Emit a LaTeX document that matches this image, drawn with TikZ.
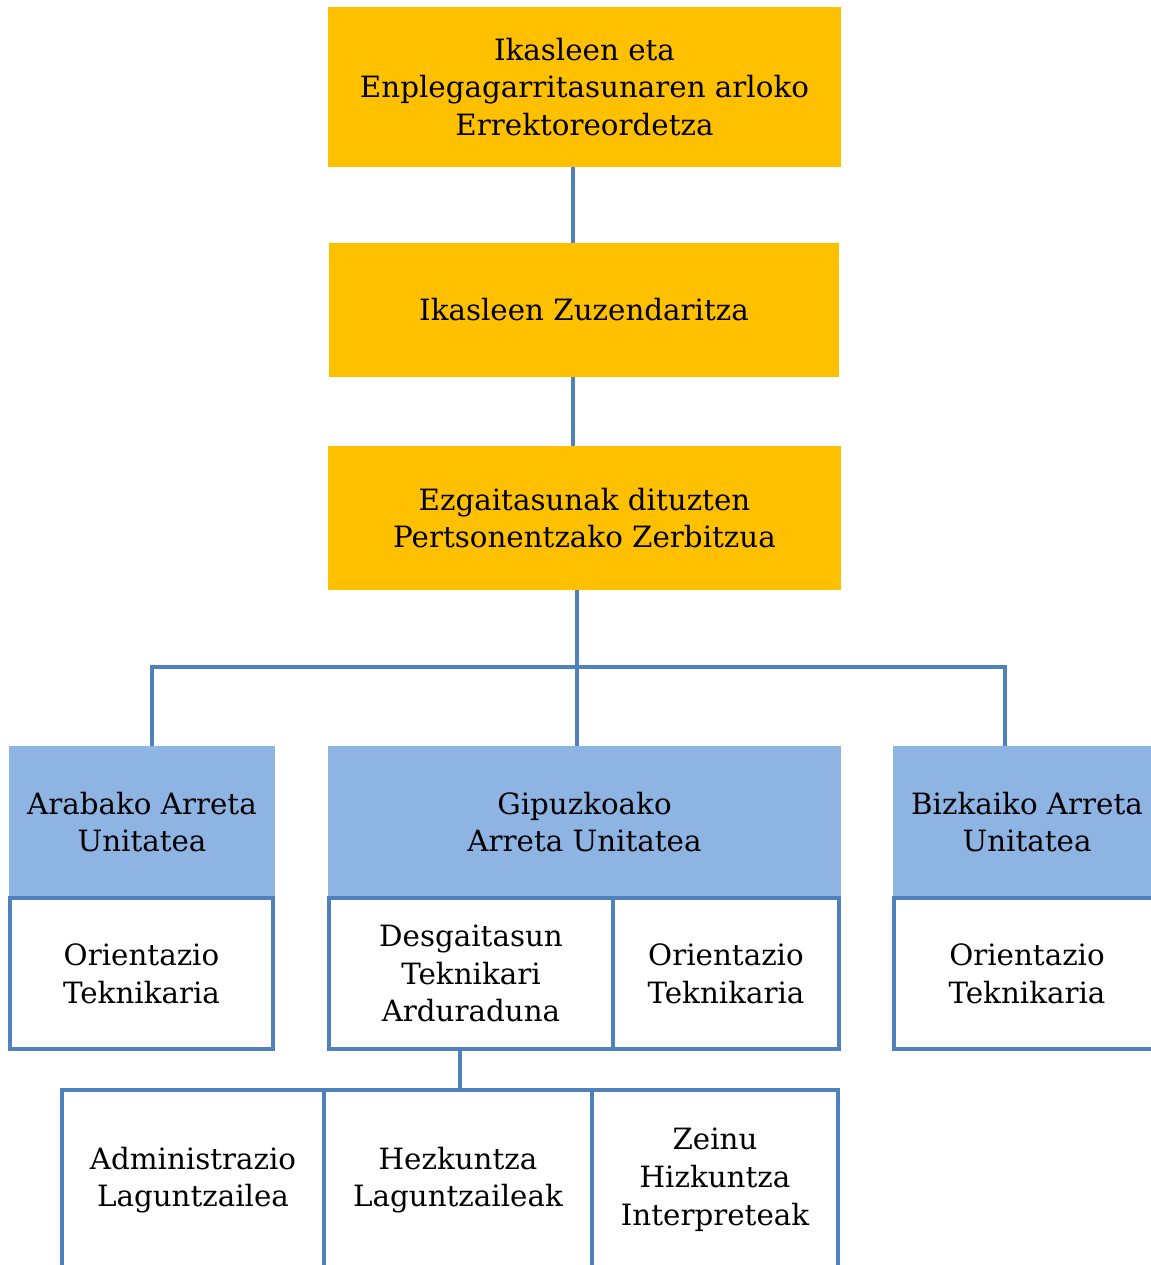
\documentclass[tikz,border=0pt]{standalone}
\usepackage{fontspec}
\setmainfont{DejaVu Serif}
\usetikzlibrary{positioning}
\definecolor{gold}{HTML}{FFC000}
\definecolor{lblue}{HTML}{8EB4E3}
\definecolor{dblue}{HTML}{4F81BD}
\begin{document}
\begin{tikzpicture}[x=0.02cm, y=-0.02cm,
	goldbox/.style={fill=gold, inner sep=0pt, align=center, font=\fontsize{16.7}{21.5}\selectfont},
	bluebox/.style={fill=lblue, inner sep=0pt, align=center, minimum height=3.04cm, font=\fontsize{16.7}{21.5}\selectfont},
	whitebox/.style={draw=dblue, line width=2.5pt, fill=white, inner sep=0pt, align=center, font=\fontsize{16.7}{21.5}\selectfont},
	conn/.style={dblue, line width=2.5pt}]
				\clip (0,0) rectangle (1151,1265);
				% goiko laukiak
				\node[goldbox, minimum width=10.26cm, minimum height=3.2cm] (rek) at (584.5,87) {Ikasleen eta\\Enplegagarritasunaren arloko\\Errektoreordetza};
				\node[goldbox, minimum width=10.2cm, minimum height=2.68cm] (zuz) at (584,310) {Ikasleen Zuzendaritza};
				\node[goldbox, minimum width=10.26cm, minimum height=2.88cm] (zerb) at (584.5,518) {Ezgaitasunak dituzten\\Pertsonentzako Zerbitzua};
				% arreta unitateak
				\node[bluebox, minimum width=5.32cm] (araba) at (142,822) {Arabako Arreta\\Unitatea};
				\node[bluebox, minimum width=10.26cm] (gipuz) at (584.5,822) {Gipuzkoako\\Arreta Unitatea};
				\node[bluebox, minimum width=5.36cm] (bizk) at (1027,822) {Bizkaiko Arreta\\Unitatea};
				% teknikariak
				\node[whitebox, minimum width=5.26cm, minimum height=3.02cm] (arabaot) at (141.5,973.5) {Orientazio\\Teknikaria};
				\node[whitebox, minimum width=5.68cm, minimum height=3.02cm] (desg) at (471,973.5) {Desgaitasun\\Teknikari\\Arduraduna};
				\node[whitebox, minimum width=4.52cm, minimum height=3.02cm] (gipuzot) at (726,973.5) {Orientazio\\Teknikaria};
				\node[whitebox, minimum width=5.32cm, minimum height=3.02cm] (bizkot) at (1027,973.5) {Orientazio\\Teknikaria};
				% laguntzaileak
				\node[whitebox, minimum width=5.24cm, minimum height=3.6cm] (admin) at (193,1180) {Administrazio\\Laguntzailea};
				\node[whitebox, minimum width=5.36cm, minimum height=3.6cm] (hezk) at (458,1180) {Hezkuntza\\Laguntzaileak};
				\node[whitebox, minimum width=4.92cm, minimum height=3.6cm] (zeinu) at (715,1180) {Zeinu\\Hizkuntza\\Interpreteak};
				% loturak
				\draw[conn] ([xshift=-0.23cm]rek.south) -- ([xshift=-0.23cm]rek.south |- zuz.north);
				\draw[conn] ([xshift=-0.22cm]zuz.south) -- ([xshift=-0.22cm]zuz.south |- zerb.north);
				\draw[conn] ([xshift=-0.15cm]zerb.south) -- ([xshift=-0.15cm]zerb.south |- gipuz.north);
				\draw[conn] ([xshift=0.2cm]araba.north) |- (577,667) -| ([xshift=-0.44cm]bizk.north);
				\draw[conn] ([xshift=-0.22cm]desg.south) -- ([xshift=-0.22cm]desg.south |- hezk.north);
\end{tikzpicture}
\end{document}
